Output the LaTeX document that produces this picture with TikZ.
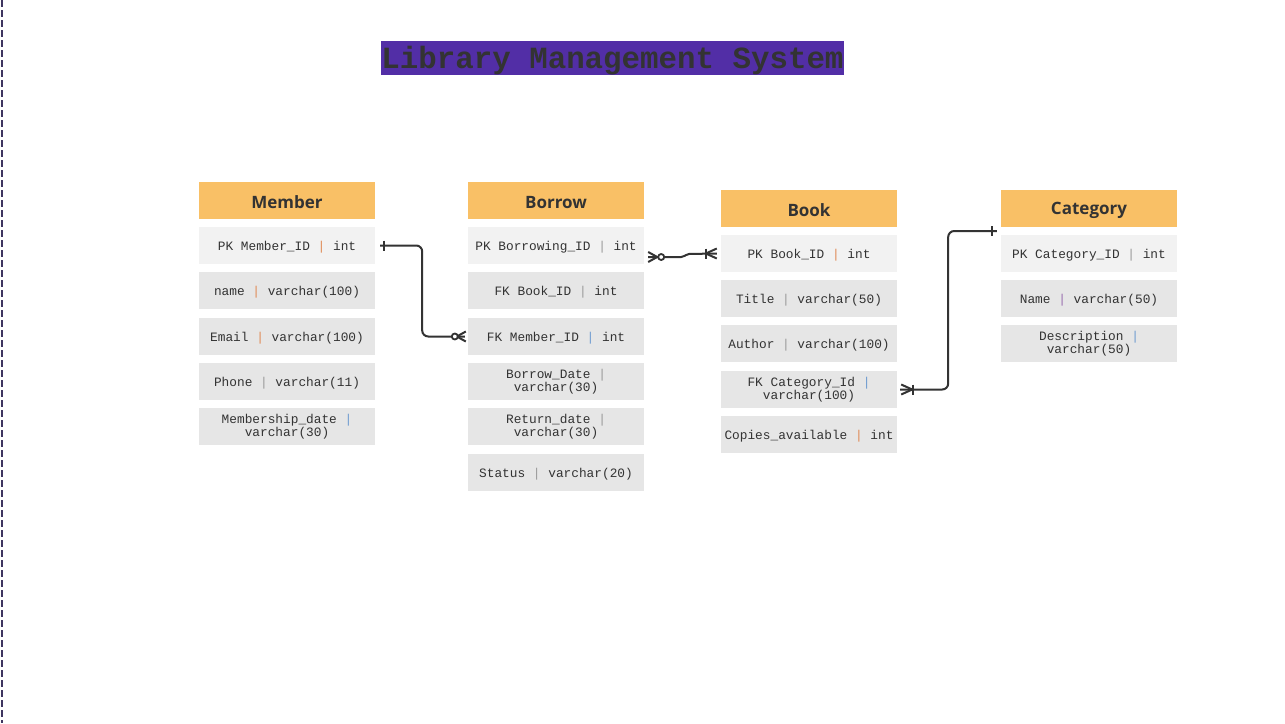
\documentclass[tikz,border=0pt]{standalone}
\usepackage{fontspec}
\usetikzlibrary{calc}
\newfontfamily\monof{Liberation Mono}
\newfontfamily\hdrf{Open Sans}
\definecolor{hdrc}{HTML}{F9C066}
\definecolor{rowl}{HTML}{F2F2F2}
\definecolor{rowd}{HTML}{E6E6E6}
\definecolor{txt}{HTML}{333333}
\definecolor{ttlbg}{HTML}{522EA6}
\definecolor{pOr}{HTML}{E08A55}
\definecolor{pBl}{HTML}{6E9BD0}
\definecolor{pGr}{HTML}{9A9A9A}
\definecolor{pPu}{HTML}{9A6FB0}
\definecolor{dashc}{HTML}{3E3560}
\newcommand{\pp}[1]{\textcolor{#1}{|}}
\begin{document}
\begin{tikzpicture}[x=1pt,y=-1pt,
  hdr/.style={fill=hdrc,minimum width=176pt,minimum height=37pt,inner sep=0pt,text=txt,font=\hdrf\bfseries\fontsize{17}{20}\selectfont,execute at begin node={\rule{0pt}{16.5pt}}},
  rowbase/.style={minimum width=176pt,minimum height=37pt,inner sep=0pt,text=txt,align=center,font=\monof\fontsize{12.8}{12.5}\selectfont},
  one/.style={execute at begin node={\rule{0pt}{13.5pt}}},
  two/.style={execute at begin node={\rule{0pt}{17.5pt}}},
  rowa/.style={rowbase,fill=rowl},
  rowb/.style={rowbase,fill=rowd},
  conn/.style={draw=txt,line width=2pt,rounded corners=6pt},
  mk/.style={draw=txt,line width=2pt},
  mkc/.style={draw=txt,line width=1.8pt,fill=white}]
\useasboundingbox (0,0) rectangle (1285,723);
\draw[dashc,line width=1.6pt,dash pattern=on 7pt off 3pt] (2,0) -- (2,723);
% title
\node[fill=ttlbg,minimum width=463pt,minimum height=34pt,inner sep=0pt,text=txt,font=\monof\bfseries\fontsize{30.8}{32}\selectfont,execute at begin node={\rule{0pt}{27pt}}] (title) at (612.5,58) {Library Management System};
% Member
\node[hdr] (mh) at (287,200) {Member};
\node[rowa,one] (m1) at (287,245.5) {PK Member\_ID \pp{pOr} int};
\node[rowb,one] (m2) at (287,290.5) {name \pp{pOr} varchar(100)};
\node[rowb,one] (m3) at (287,336.5) {Email \pp{pOr} varchar(100)};
\node[rowb,one] (m4) at (287,381.5) {Phone \pp{pGr} varchar(11)};
\node[rowb,two] (m5) at (287,426.5) {Membership\_date \pp{pBl}\\varchar(30)};
% Borrow
\node[hdr] (bh) at (556,200) {Borrow};
\node[rowa,one] (b1) at (556,245.5) {PK Borrowing\_ID \pp{pGr} int};
\node[rowb,one] (b2) at (556,290.5) {FK Book\_ID \pp{pGr} int};
\node[rowb,one] (b3) at (556,336.5) {FK Member\_ID \pp{pBl} int};
\node[rowb,two] (b4) at (556,381.5) {Borrow\_Date \pp{pGr}\\varchar(30)};
\node[rowb,two] (b5) at (556,426.5) {Return\_date \pp{pGr}\\varchar(30)};
\node[rowb,one] (b6) at (556,472.5) {Status \pp{pGr} varchar(20)};
% Book
\node[hdr] (kh) at (809,208.5) {Book};
\node[rowa,one] (k1) at (809,253.5) {PK Book\_ID \pp{pOr} int};
\node[rowb,one] (k2) at (809,298.5) {Title \pp{pGr} varchar(50)};
\node[rowb,one] (k3) at (809,343.5) {Author \pp{pGr} varchar(100)};
\node[rowb,two] (k4) at (809,389.5) {FK Category\_Id \pp{pBl}\\varchar(100)};
\node[rowb,one] (k5) at (809,434.5) {Copies\_available \pp{pOr} int};
% Category
\node[hdr] (ch) at (1089,208.5) {Category};
\node[rowa,one] (c1) at (1089,253.5) {PK Category\_ID \pp{pGr} int};
\node[rowb,one] (c2) at (1089,298.5) {Name \pp{pPu} varchar(50)};
\node[rowb,two] (c3) at (1089,343.5) {Description \pp{pBl}\\varchar(50)};
% connector Member -> Borrow
\coordinate (a1) at ($(m1.east)+(5,0)$);
\coordinate (a2) at ($(b3.west)+(-3,0)$);
\draw[conn] (a1) -- ++(42,0) |- (a2);
\draw[mk] ($(m1.east)+(9,-5)$) -- ++(0,10);
\draw[mk] ($(b3.west)+(-11,0)$) -- ($(b3.west)+(-2,-5)$);
\draw[mk] ($(b3.west)+(-11,0)$) -- ($(b3.west)+(-2,5)$);
\draw[mkc] ($(b3.west)+(-13,0)$) circle (3pt);
% connector Borrow -> Book
\coordinate (d1) at ($(b1.east)+(4,11.5)$);
\coordinate (d2) at ($(k1.west)+(-4,0)$);
\draw[conn,rounded corners=2pt] (d1) -- ++(35,0) -- ++(4,-3) -- (d2);
\draw[mk] ($(d1)+(9,0)$) -- ($(d1)+(0,-5)$);
\draw[mk] ($(d1)+(9,0)$) -- ($(d1)+(0,5)$);
\draw[mkc] ($(d1)+(13,0)$) circle (3pt);
\draw[mk] ($(d2)+(-11,-5)$) -- ++(0,10);
\draw[mk] ($(d2)+(-11,0)$) -- ($(d2)+(0,-5)$);
\draw[mk] ($(d2)+(-11,0)$) -- ($(d2)+(0,5)$);
% connector Book -> Category
\coordinate (e1) at ($(k4.east)+(3,0)$);
\coordinate (e2) at ($(c1.west)+(-4,-22.5)$);
\draw[conn] (e1) -- ++(48,0) |- (e2);
\draw[mk] ($(e1)+(12,0)$) -- ($(e1)+(1,-5)$);
\draw[mk] ($(e1)+(12,0)$) -- ($(e1)+(1,5)$);
\draw[mk] ($(e1)+(13,-5)$) -- ++(0,10);
\draw[mk] ($(e2)+(-5,-5)$) -- ++(0,10);
\end{tikzpicture}
\end{document}
